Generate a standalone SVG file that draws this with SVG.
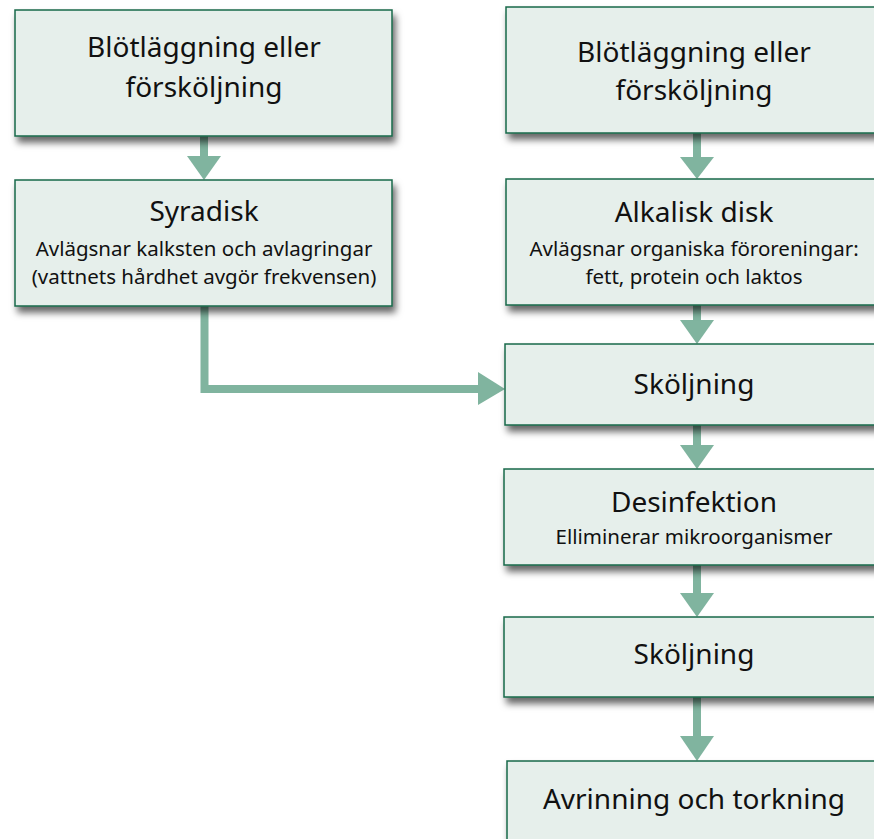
<svg xmlns="http://www.w3.org/2000/svg" width="874" height="839" viewBox="0 0 874 839">
<style>
.box{fill:#e6efeb;stroke:#17694a;stroke-width:1.5;filter:url(#sh)}
.t{font-family:"Noto Sans","Open Sans",sans-serif;fill:#111;text-anchor:middle}
.h{font-size:28px}
.s{font-size:20.5px}
.c{fill:none;stroke:#80b49f;stroke-width:8}
.ah{fill:#80b49f}
</style>
<defs>
<filter id="sh" x="-10%" y="-20%" width="130%" height="160%">
<feDropShadow dx="3" dy="6" stdDeviation="3.5" flood-color="#000" flood-opacity="0.6"/>
</filter>
</defs>
<g id="connectors">
<path class="c" d="M204 136V158"/><polygon class="ah" points="187,156 221,156 204,180"/>
<path class="c" d="M697 133V160"/><polygon class="ah" points="680,157 714,157 697,179"/>
<path class="c" d="M697 305V323"/><polygon class="ah" points="680,320 714,320 697,344"/>
<path class="c" d="M204.5 306V389H480"/><polygon class="ah" points="478,372 478,405 505,389"/>
<path class="c" d="M697 425V447"/><polygon class="ah" points="680,445 714,445 697,469"/>
<path class="c" d="M697 565V595"/><polygon class="ah" points="680,593 714,593 697,617"/>
<path class="c" d="M697 697V738"/><polygon class="ah" points="680,736 714,736 697,761"/>
</g>
<g id="n1"><rect class="box" x="15" y="10" width="377" height="126"/>
<text class="t h" x="204" y="57">Blötläggning eller</text><text class="t h" x="204" y="97">försköljning</text></g>
<g id="n2"><rect class="box" x="15" y="180" width="377" height="126"/>
<text class="t h" x="204" y="221">Syradisk</text>
<text class="t s" x="204" y="256">Avlägsnar kalksten och avlagringar</text>
<text class="t s" x="204" y="284">(vattnets hårdhet avgör frekvensen)</text></g>
<g id="n3"><rect class="box" x="506" y="7" width="380" height="126"/>
<text class="t h" x="694" y="62">Blötläggning eller</text><text class="t h" x="694" y="100">försköljning</text></g>
<g id="n4"><rect class="box" x="506" y="179" width="380" height="126"/>
<text class="t h" x="694" y="222">Alkalisk disk</text>
<text class="t s" x="694" y="256">Avlägsnar organiska föroreningar:</text>
<text class="t s" x="694" y="284">fett, protein och laktos</text></g>
<g id="n5"><rect class="box" x="505" y="344" width="380" height="81"/>
<text class="t h" x="694" y="394">Sköljning</text></g>
<g id="n6"><rect class="box" x="504" y="469" width="380" height="96"/>
<text class="t h" x="694" y="512">Desinfektion</text>
<text class="t s" x="694" y="544">Elliminerar mikroorganismer</text></g>
<g id="n7"><rect class="box" x="504" y="617" width="380" height="80"/>
<text class="t h" x="694" y="664">Sköljning</text></g>
<g id="n8"><rect class="box" x="507" y="761" width="380" height="90"/>
<text class="t h" x="694" y="809">Avrinning och torkning</text></g>
</svg>
